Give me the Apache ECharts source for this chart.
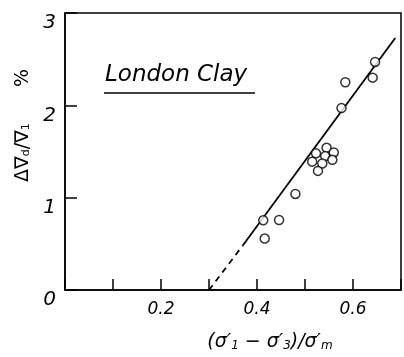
<!DOCTYPE html>
<html>
<head>
<meta charset="utf-8">
<script src="https://cdn.jsdelivr.net/npm/echarts@6/dist/echarts.min.js"></script>
<style>html,body{margin:0;padding:0;background:#fff;}#c{width:404px;height:357px;}</style>
</head>
<body>
<div id="c"></div>
<script>
// Measured points: stress ratio (x) vs volumetric strain % (y)
var stressRatio = [0.646, 0.641, 0.584, 0.576, 0.545, 0.560, 0.523, 0.542, 0.557, 0.515, 0.536, 0.527, 0.480, 0.413, 0.446, 0.416];
var volStrain   = [2.47, 2.30, 2.25, 1.97, 1.54, 1.49, 1.48, 1.45, 1.41, 1.39, 1.37, 1.29, 1.04, 0.755, 0.758, 0.557];
// Fitted line: dashed extrapolation then solid part
var dashedLineX = [0.30, 0.37];
var dashedLineY = [0.00, 0.48];
var solidLineX  = [0.37, 0.688];
var solidLineY  = [0.48, 2.73];
var xTickLabels = ['0.2', '0.4', '0.6'];
var yTickLabels = ['0', '1', '2', '3'];

function zip(a, b) { return a.map(function (v, i) { return [v, b[i]]; }); }
var ff = '"DejaVu Sans", sans-serif';

var chart = echarts.init(document.getElementById('c'));
chart.setOption({
  animation: false,
  backgroundColor: '#fff',
  grid: { left: 65, right: 2, top: 13, bottom: 55, show: true, borderColor: '#000', borderWidth: 1.5, backgroundColor: 'transparent' },
  xAxis: {
    type: 'value', min: 0, max: 0.7, interval: 0.1,
    axisLine: { show: true, lineStyle: { color: '#000', width: 1.5 } },
    axisTick: { show: true, inside: true, length: 11, lineStyle: { color: '#000', width: 1.5 } },
    splitLine: { show: false },
    axisLabel: {
      margin: 11, color: '#000', fontFamily: ff, fontStyle: 'italic', fontSize: 17,
      formatter: function (v) {
        var s = (Math.round(v * 10) / 10).toFixed(1);
        return xTickLabels.indexOf(s) >= 0 ? s : '';
      }
    },
    name: '(σ′{s|1} − σ′{s|3})/σ′{s|m}',
    nameLocation: 'middle', nameGap: 42,
    nameTextStyle: {
      color: '#000', fontFamily: ff, fontStyle: 'italic', fontSize: 19, padding: [0, 0, 0, 74],
      rich: { s: { fontSize: 12, fontFamily: ff, fontStyle: 'italic', color: '#000', verticalAlign: 'bottom', padding: [8, 0, 0, 0] } }
    }
  },
  yAxis: {
    type: 'value', min: 0, max: 3, interval: 1,
    axisLine: { show: true, lineStyle: { color: '#000', width: 1.5 } },
    axisTick: { show: true, inside: true, length: 12, lineStyle: { color: '#000', width: 1.5 } },
    splitLine: { show: false },
    axisLabel: {
      margin: 9, color: '#000', fontFamily: ff, fontStyle: 'italic', fontSize: 20, verticalAlign: 'top',
      formatter: function (v) { var s = String(Math.round(v)); return yTickLabels.indexOf(s) >= 0 ? s : ''; }
    },
    name: 'Δ∇{s|d}/∇{s|1}      %',
    nameLocation: 'middle', nameGap: 27,
    nameTextStyle: {
      color: '#000', fontFamily: ff, fontSize: 19, padding: [0, 0, 0, 52],
      rich: { s: { fontSize: 11, fontFamily: ff, color: '#000', padding: [7, 0, 0, 0] } }
    }
  },
  series: [
    { type: 'line', data: zip(dashedLineX, dashedLineY), symbol: 'none', z: 2,
      lineStyle: { color: '#000', width: 1.8, type: [6, 5] } },
    { type: 'line', data: zip(solidLineX, solidLineY), symbol: 'none', z: 2,
      lineStyle: { color: '#000', width: 1.8 } },
    { type: 'scatter', data: zip(stressRatio, volStrain), symbol: 'circle', symbolSize: 9, z: 5,
      itemStyle: { color: '#fff', borderColor: '#000', borderWidth: 1.5 } }
  ],
  graphic: [
    { type: 'text', left: 105, top: 64, style: { text: 'London Clay', font: 'italic 23px "DejaVu Sans", sans-serif', fill: '#000' } },
    { type: 'line', shape: { x1: 104, y1: 93, x2: 255, y2: 93 }, style: { stroke: '#000', lineWidth: 1.5 } }
  ]
});
</script>
</body>
</html>
